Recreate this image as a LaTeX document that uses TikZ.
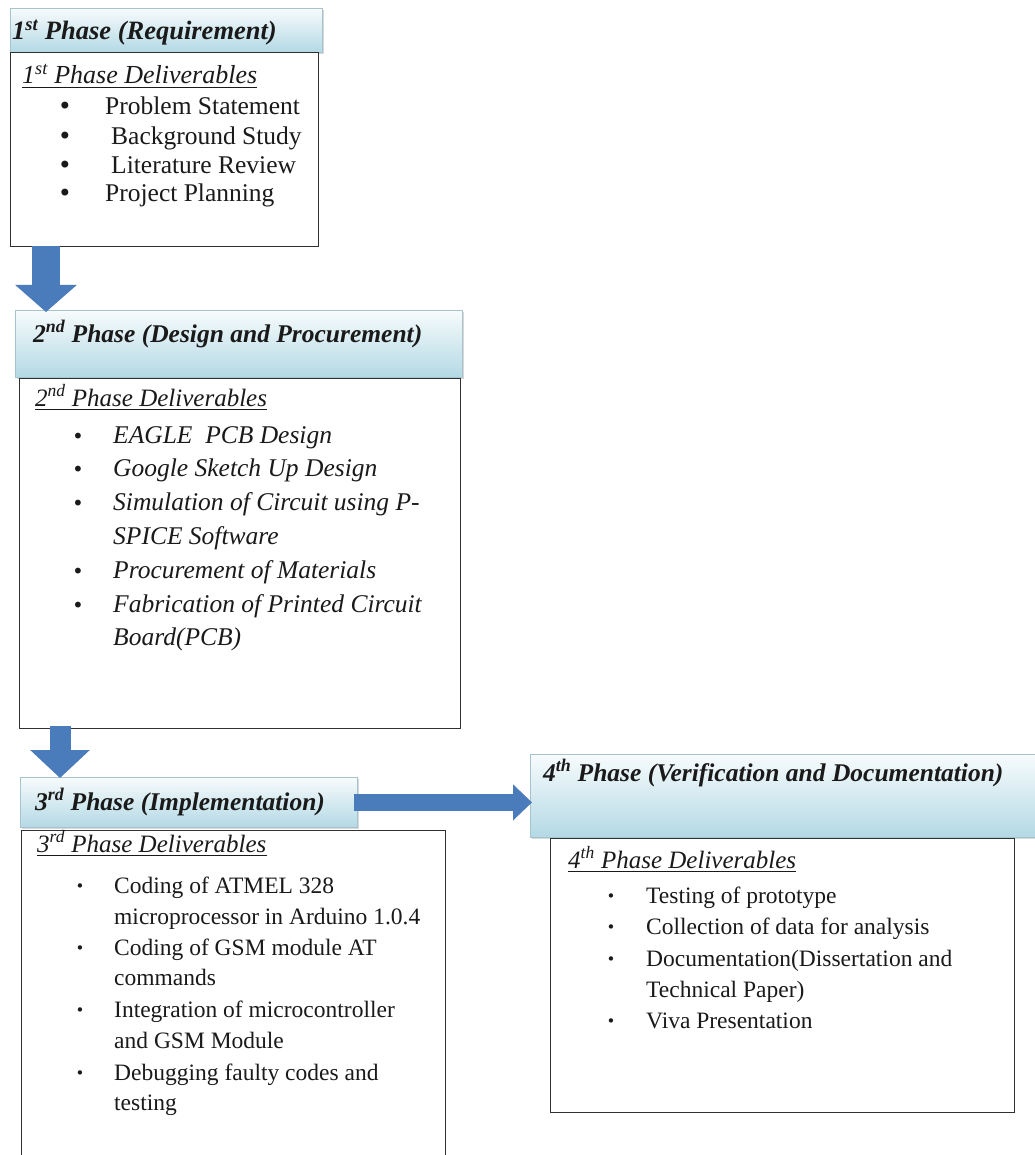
\documentclass[tikz,border=0pt]{standalone}
\usepackage{fontspec}
\setmainfont{Liberation Serif}
\newfontfamily\bulfont{DejaVu Sans}
\usetikzlibrary{arrows.meta,shadows,calc}
\definecolor{hdtop}{HTML}{F7FBFC}
\definecolor{hdbot}{HTML}{B3D9E5}
\definecolor{hdedge}{HTML}{A7C4CE}
\definecolor{arrowblue}{HTML}{4A7BBA}
\definecolor{boxedge}{HTML}{303030}
\definecolor{ink}{HTML}{1A1A1A}
\tikzset{
  hdr/.style={draw=hdedge, line width=0.8pt, top color=hdtop, bottom color=hdbot,
    drop shadow={opacity=0.3, shadow xshift=2pt, shadow yshift=-2pt},
    inner sep=0, anchor=north west},
  body/.style={draw=boxedge, line width=1.4pt, fill=white, inner sep=0, anchor=north west},
  hdtext/.style={anchor=base west, inner sep=0, text=ink,
    font=\fontsize{25.5}{30}\selectfont\bfseries\itshape},
  ttl/.style={anchor=base west, inner sep=0, text=ink,
    font=\fontsize{25}{30}\selectfont\itshape},
  ttlline/.style={draw=ink, line width=1.2pt},
  itemA/.style={anchor=base west, inner sep=0, text=ink, font=\fontsize{25.5}{30}\selectfont},
  itemB/.style={anchor=base west, inner sep=0, text=ink, font=\fontsize{25.5}{30}\selectfont\itshape},
  itemC/.style={anchor=base west, inner sep=0, text=ink, font=\fontsize{23.5}{30}\selectfont},
  bulA/.style={anchor=base, inner sep=0, text=ink, font=\bulfont\fontsize{24}{28}\selectfont},
  bulB/.style={anchor=base, inner sep=0, text=ink, font=\bulfont\fontsize{20}{24}\selectfont},
  bulC/.style={anchor=base, inner sep=0, text=ink, font=\bulfont\fontsize{15}{18}\selectfont, yshift=1.5pt},
  bigarrow/.style={draw=arrowblue, line cap=butt}
}
\begin{document}
\begin{tikzpicture}[x=1pt, y=-1pt]
\useasboundingbox[fill=white] (0,0) rectangle (1034,1155);

% ---------- Phase 1 ----------
\node[hdr, minimum width=312pt, minimum height=44pt] (h1) at (10,8) {};
\node[body, minimum width=308pt, minimum height=194pt] (b1) at (10,52) {};
\node[hdtext, font=\fontsize{26.5}{30}\selectfont\bfseries\itshape] (h1t) at (12,40) {1\textsuperscript{st} Phase (Requirement)};
\node[ttl, font=\fontsize{26}{30}\selectfont\itshape] (t1) at (22,84) {1\textsuperscript{st} Phase Deliverables};
\draw[ttlline] ($(t1.base west)+(0,3.5)$) -- ($(t1.base east)+(0,3.5)$);
\foreach \x/\y/\t [count=\i] in {105/115/{Problem Statement}, 111/145/{Background Study},
    111/174/{Literature Review}, 105/202/{Project Planning}} {
  \node[bulA] (b1b\i) at (65,\y) {\textbullet};
  \node[itemA] (b1t\i) at (\x,\y) {\t};
}

% ---------- Phase 2 ----------
\node[hdr, minimum width=447pt, minimum height=67pt] (h2) at (15,310) {};
\node[body, minimum width=441pt, minimum height=350pt] (b2) at (19,378) {};
\node[hdtext] (h2t) at (33,342) {2\textsuperscript{nd} Phase (Design and Procurement)};
\node[ttl] (t2) at (35,406) {2\textsuperscript{nd} Phase Deliverables};
\draw[ttlline] ($(t2.base west)+(0,3.5)$) -- ($(t2.base east)+(0,3.5)$);
\foreach \y/\b/\t [count=\i] in {443/1/{EAGLE\ \ PCB Design}, 476/1/{Google Sketch Up Design},
    510/1/{Simulation of Circuit using P-}, 544/0/{SPICE Software},
    578/1/{Procurement of Materials}, 612/1/{Fabrication of Printed Circuit},
    645/0/{Board(PCB)}} {
  \node[itemB] (b2t\i) at (113,\y) {\t};
  \ifnum\b=1 \node[bulB] (b2b\i) at (78,\y) {\textbullet}; \fi
}

% ---------- Phase 3 ----------
\node[hdr, minimum width=337pt, minimum height=50pt] (h3) at (20,777) {};
\node[body, minimum width=424pt, minimum height=340pt] (b3) at (21,830) {};
\node[hdtext] (h3t) at (35,810) {3\textsuperscript{rd} Phase (Implementation)};
\node[ttl] (t3) at (37,852) {3\textsuperscript{rd} Phase Deliverables};
\draw[ttlline] ($(t3.base west)+(0,3.5)$) -- ($(t3.base east)+(0,3.5)$);
\foreach \y/\b/\t [count=\i] in {893/1/{Coding of ATMEL 328}, 924/0/{microprocessor in Arduino 1.0.4},
    955/1/{Coding of GSM module AT}, 985/0/{commands},
    1017/1/{Integration of microcontroller}, 1048/0/{and GSM Module},
    1080/1/{Debugging faulty codes and}, 1110/0/{testing}} {
  \node[itemC] (b3t\i) at (114,\y) {\t};
  \ifnum\b=1 \node[bulC] (b3b\i) at (80,\y) {\textbullet}; \fi
}

% ---------- Phase 4 ----------
\node[hdr, minimum width=510pt, minimum height=83pt] (h4) at (530,754) {};
\node[body, minimum width=464pt, minimum height=274pt] (b4) at (550,838) {};
\node[hdtext] (h4t) at (543,781) {4\textsuperscript{th} Phase (Verification and Documentation)};
\node[ttl] (t4) at (568,868) {4\textsuperscript{th} Phase Deliverables};
\draw[ttlline] ($(t4.base west)+(0,3.5)$) -- ($(t4.base east)+(0,3.5)$);
\foreach \y/\b/\t [count=\i] in {903/1/{Testing of prototype}, 934/1/{Collection of data for analysis},
    966/1/{Documentation(Dissertation and}, 997/0/{Technical Paper)},
    1028/1/{Viva Presentation}} {
  \node[itemC] (b4t\i) at (646,\y) {\t};
  \ifnum\b=1 \node[bulC] (b4b\i) at (611,\y) {\textbullet}; \fi
}

% ---------- Arrows ----------
\coordinate (a1s) at ($(b1.south west)+(36,-1)$);
\coordinate (a1e) at ($(a1s |- h2.north)+(0,2)$);
\draw[bigarrow, line width=28pt, -{Triangle[width=60pt,length=27pt]}] (a1s) -- (a1e);

\coordinate (a2s) at ($(b2.south west)+(41,-3)$);
\coordinate (a2e) at ($(a2s |- h3.north)+(0,1)$);
\draw[bigarrow, line width=21pt, -{Triangle[width=58pt,length=28pt]}] (a2s) -- (a2e);

\coordinate (a3s) at ($(h3.east)+(-4,0)$);
\coordinate (a3e) at ($(h4.west |- h3.east)+(2,0)$);
\draw[bigarrow, line width=17pt, -{Triangle[width=35pt,length=19pt]}] (a3s) -- (a3e);
\end{tikzpicture}
\end{document}
